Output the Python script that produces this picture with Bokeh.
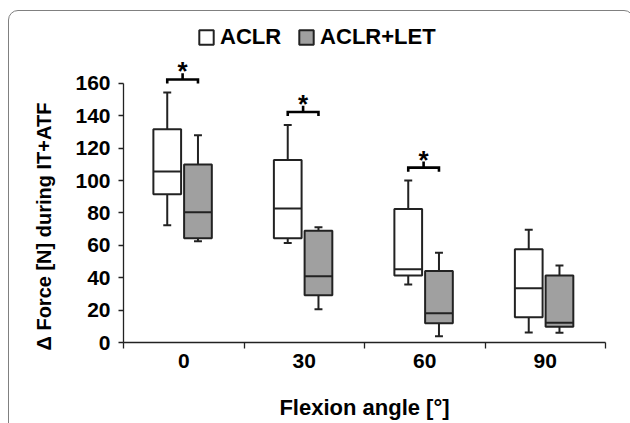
from bokeh.plotting import figure
from bokeh.models import (Range1d, FixedTicker, Legend, LegendItem, ColumnDataSource,
                          Title, InlineStyleSheet)
from bokeh.embed import file_html
from bokeh.resources import INLINE
from bokeh.core.properties import value

# ---- data ----
angles = ["0", "30", "60", "90"]
aclr_lo = [72.4, 61.5, 35.8, 6.2]
aclr_q1 = [91.5, 64.4, 41.4, 15.6]
aclr_med = [105.6, 82.7, 45.3, 33.5]
aclr_q3 = [131.7, 112.8, 82.5, 57.6]
aclr_hi = [154.5, 134.4, 100.0, 69.6]
let_lo = [62.5, 20.6, 3.9, 6.0]
let_q1 = [64.4, 29.2, 11.9, 9.7]
let_med = [80.4, 40.9, 18.1, 12.2]
let_q3 = [110.0, 69.0, 44.2, 41.4]
let_hi = [128.0, 71.2, 55.5, 47.5]
significant = [True, True, True, False]
y_ticks = [0, 20, 40, 60, 80, 100, 120, 140, 160]
y_title = "\u0394 Force [N] during IT+ATF"
x_title = "Flexion angle [\u00b0]"

FONT = "Liberation Sans"
DARK = "#222222"
GREY = "#a0a0a0"
BOX_W = 0.23
CAP_W = 0.033
OFF_A = -0.137
OFF_B = 0.118

frame_css = InlineStyleSheet(css="""
:host { position: relative; overflow: hidden; }
:host::after {
  content: ""; position: absolute; left: 8px; top: 10px;
  width: 626px; height: 460px; box-sizing: border-box;
  border: 1.5px solid #808080; border-radius: 10px; pointer-events: none;
}
""")

p = figure(width=630, height=423, x_range=Range1d(0, 4), y_range=Range1d(0, 198.9),
           output_backend="svg", toolbar_location=None,
           min_border_left=123, min_border_right=25, min_border_top=20, min_border_bottom=81,
           stylesheets=[frame_css])
p.xgrid.visible = False
p.ygrid.visible = False
p.outline_line_color = None
p.background_fill_color = "white"
p.border_fill_color = "white"


def draw(offset, lo, q1, med, q3, hi, fill):
    xs = [i + 0.5 + offset for i in range(len(angles))]
    src = ColumnDataSource(dict(
        x=xs, lo=lo, q1=q1, med=med, q3=q3, hi=hi,
        x0=[x - BOX_W / 2 for x in xs], x1=[x + BOX_W / 2 for x in xs],
        c0=[x - CAP_W for x in xs], c1=[x + CAP_W for x in xs]))
    kw = dict(source=src, line_color=DARK, line_width=2)
    p.segment(x0="x", y0="q3", x1="x", y1="hi", **kw)
    p.segment(x0="x", y0="q1", x1="x", y1="lo", **kw)
    p.segment(x0="c0", y0="hi", x1="c1", y1="hi", **kw)
    p.segment(x0="c0", y0="lo", x1="c1", y1="lo", **kw)
    r = p.vbar(x="x", width=BOX_W, bottom="q1", top="q3", source=src,
               fill_color=fill, line_color=DARK, line_width=2)
    p.segment(x0="x0", y0="med", x1="x1", y1="med", **kw)
    return r


r_a = draw(OFF_A, aclr_lo, aclr_q1, aclr_med, aclr_q3, aclr_hi, "white")
r_b = draw(OFF_B, let_lo, let_q1, let_med, let_q3, let_hi, GREY)

# significance brackets
bx, by, sx, sy, tx, ty = [], [], [], [], [], []
for i, sig in enumerate(significant):
    if not sig:
        continue
    xa = i + 0.5 + OFF_A
    xb = i + 0.5 + OFF_B
    xm = (xa + xb) / 2
    y = aclr_hi[i] + 8
    bx.append([xa, xa, xb, xb])
    by.append([y - 2.5, y, y, y - 2.5])
    sx.append([xm, xm])
    sy.append([y, y + 3.8])
    tx.append(xm)
    ty.append(y + 5)
p.multi_line(xs=bx + sx, ys=by + sy, line_color="black", line_width=2.6, line_join="miter")
p.text(x=tx, y=ty, text=["*"] * len(tx), text_font=value(FONT), text_font_style="bold",
       text_font_size="26px", text_align="center", text_baseline="alphabetic", text_color="black")

# axes
yax = p.yaxis[0]
yax.ticker = FixedTicker(ticks=y_ticks)
yax.bounds = (0, 160)
yax.minor_tick_line_color = None
yax.major_tick_out = 5
yax.major_tick_in = 0
yax.major_label_standoff = 8
yax.axis_line_color = DARK
yax.major_tick_line_color = DARK
yax.axis_line_width = 1.3
yax.major_tick_line_width = 1.3
yax.major_label_text_font = FONT
yax.major_label_text_font_style = "bold"
yax.major_label_text_font_size = "21px"
yax.major_label_text_color = "black"

# y title as a side-panel title so that it sits centred on the 0-160 span
p.add_layout(Title(text=y_title, align="left", offset=-8, standoff=36,
                   text_font=FONT, text_font_style="bold", text_font_size="20px",
                   text_color="black"), "left")

xax = p.xaxis[0]
xax.ticker = FixedTicker(ticks=[i + 0.5 for i in range(len(angles))],
                         minor_ticks=list(range(len(angles) + 1)))
xax.major_label_overrides = {i + 0.5: a for i, a in enumerate(angles)}
xax.major_tick_line_color = None
xax.major_tick_out = 5
xax.major_tick_in = 0
xax.minor_tick_out = 6
xax.minor_tick_in = 0
xax.minor_tick_line_color = DARK
xax.minor_tick_line_width = 1.3
xax.axis_line_color = DARK
xax.axis_line_width = 1.3
xax.major_label_standoff = 5
xax.major_label_text_font = FONT
xax.major_label_text_font_style = "bold"
xax.major_label_text_font_size = "21px"
xax.major_label_text_color = "black"
xax.axis_label = x_title
xax.axis_label_text_font = FONT
xax.axis_label_text_font_style = "bold"
xax.axis_label_text_font_size = "22px"
xax.axis_label_text_color = "black"
xax.axis_label_standoff = 24

legend = Legend(items=[LegendItem(label="ACLR", renderers=[r_a]),
                       LegendItem(label="ACLR+LET", renderers=[r_b])],
                orientation="horizontal", location=(74, 292),
                border_line_color=None, background_fill_alpha=0,
                padding=0, margin=0, spacing=16, glyph_width=18, glyph_height=18,
                label_standoff=5, label_text_font=FONT, label_text_font_style="bold",
                label_text_font_size="22px", label_text_color="black")
p.add_layout(legend)

open("out.html", "w").write(file_html(p, INLINE))
